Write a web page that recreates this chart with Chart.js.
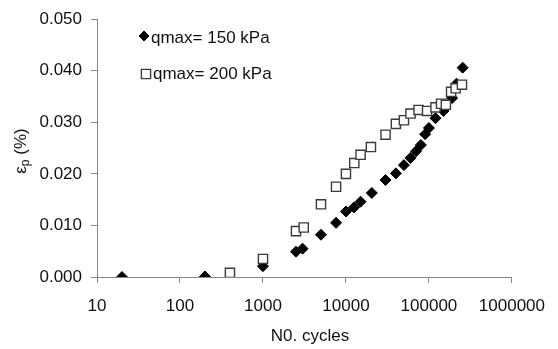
<!DOCTYPE html>
<html>
<head>
<meta charset="utf-8">
<script src="https://cdn.jsdelivr.net/npm/chart.js@4.4.1/dist/chart.umd.min.js"></script>
<style>
    html, body { margin: 0; padding: 0; background: #fff; }
    #wrap { width: 558px; height: 349px; position: relative; }
</style>
</head>
<body>
<div id="wrap"><canvas id="chart" width="558" height="349"></canvas></div>
<script>
// Data
const cycles150 = [20, 200, 1000, 2500, 3000, 5000, 7600, 10000, 12500, 15000, 20500, 30000, 40000, 50000, 60000, 70000, 80000, 90000, 100000, 120000, 150000, 190000, 215000, 255000];
const strain150 = [0.0000, 0.0001, 0.0021, 0.0049, 0.0055, 0.0082, 0.0105, 0.0127, 0.0135, 0.0146, 0.0163, 0.0188, 0.0201, 0.0217, 0.0231, 0.0244, 0.0256, 0.0277, 0.0289, 0.0308, 0.0322, 0.0347, 0.0375, 0.0406];

const cycles200 = [400, 1000, 2500, 3100, 5000, 7600, 10000, 12600, 15000, 20000, 30000, 40000, 50000, 60000, 75000, 95000, 120000, 140000, 160000, 185000, 210000, 250000];
const strain200 = [0.0008, 0.0035, 0.0089, 0.0096, 0.0141, 0.0175, 0.0200, 0.0221, 0.0237, 0.0252, 0.0276, 0.0297, 0.0304, 0.0317, 0.0324, 0.0322, 0.0329, 0.0336, 0.0334, 0.0359, 0.0366, 0.0373];

const xTicks = [10, 100, 1000, 10000, 100000, 1000000];
const yTicks = [0, 0.01, 0.02, 0.03, 0.04, 0.05];

const labels = ['qmax= 150 kPa', 'qmax= 200 kPa'];
const xTitle = 'N0. cycles';

const FONT = '"Liberation Sans", Arial, sans-serif';
const AXIS_COLOR = '#868686';
const TEXT_COLOR = '#111';

function toPoints(xs, ys) {
    return xs.map((x, i) => ({ x: x, y: ys[i] }));
}

// Legend inside the plot + axis titles
const overlay = {
    id: 'overlay',
    afterDraw(chart) {
        const ctx = chart.ctx;
        ctx.save();
        ctx.font = '17px ' + FONT;
        ctx.fillStyle = TEXT_COLOR;
        ctx.textBaseline = 'middle';

        // legend
        const rows = [
            { ds: chart.data.datasets[1], x: 144, y: 36, tx: 151, ty: 38 },
            { ds: chart.data.datasets[0], x: 146, y: 74, tx: 153, ty: 74 }
        ];
        rows.forEach(r => {
            ctx.fillStyle = r.ds.backgroundColor;
            ctx.strokeStyle = r.ds.borderColor;
            ctx.lineWidth = r.ds.borderWidth;
            Chart.helpers.drawPoint(ctx, {
                pointStyle: r.ds.pointStyle,
                radius: r.ds.legendRadius,
                borderWidth: r.ds.borderWidth,
                rotation: 0
            }, r.x, r.y);
            ctx.fillStyle = TEXT_COLOR;
            ctx.textAlign = 'left';
            ctx.fillText(r.ds.label, r.tx, r.ty);
        });

        // x title
        ctx.textAlign = 'center';
        ctx.fillText(xTitle, 310, 336);

        // y title: epsilon with subscript p, rotated
        ctx.translate(21, 151);
        ctx.rotate(-Math.PI / 2);
        const big = '17px ' + FONT;
        const small = '12px ' + FONT;
        ctx.font = big;
        const wE = ctx.measureText('\u03b5').width;
        const wRest = ctx.measureText(' (%)').width;
        ctx.font = small;
        const wP = ctx.measureText('p').width;
        const total = wE + wP + wRest;
        let cx = -total / 2;
        ctx.textAlign = 'left';
        ctx.font = big;
        ctx.fillText('\u03b5', cx, 0);
        cx += wE;
        ctx.font = small;
        ctx.fillText('p', cx, 5);
        cx += wP;
        ctx.font = big;
        ctx.fillText(' (%)', cx, 0);
        ctx.restore();
    }
};

const chart = new Chart(document.getElementById('chart'), {
    type: 'scatter',
    data: {
        datasets: [{
            label: labels[1],
            data: toPoints(cycles200, strain200),
            pointStyle: 'rect',
            radius: 6.5,
            legendRadius: 6.5,
            backgroundColor: '#fff',
            borderColor: '#3a3a3a',
            borderWidth: 1.4,
            order: 0
        }, {
            label: labels[0],
            data: toPoints(cycles150, strain150),
            pointStyle: 'rectRot',
            radius: 5.5,
            legendRadius: 5,
            backgroundColor: '#000',
            borderColor: '#000',
            borderWidth: 1,
            order: 1
        }]
    },
    options: {
        responsive: false,
        animation: false,
        events: [],
        layout: {
            padding: { left: 0, top: 17, right: 34, bottom: 0 }
        },
        plugins: {
            legend: { display: false },
            tooltip: { enabled: false }
        },
        scales: {
            x: {
                type: 'logarithmic',
                min: 10,
                max: 1000000,
                afterBuildTicks: scale => {
                    scale.ticks = xTicks.map(v => ({ value: v }));
                },
                afterFit: scale => { scale.height = 72; },
                ticks: {
                    autoSkip: false,
                    maxRotation: 0,
                    padding: 13,
                    color: TEXT_COLOR,
                    font: { family: FONT, size: 17 },
                    callback: v => String(v)
                },
                grid: {
                    drawOnChartArea: false,
                    drawTicks: true,
                    tickLength: 6,
                    color: AXIS_COLOR
                },
                border: { color: AXIS_COLOR, width: 1 }
            },
            y: {
                min: 0,
                max: 0.05,
                afterBuildTicks: scale => {
                    scale.ticks = yTicks.map(v => ({ value: v }));
                },
                afterFit: scale => { scale.width = 97; },
                ticks: {
                    padding: 9,
                    color: TEXT_COLOR,
                    font: { family: FONT, size: 17 },
                    callback: v => v.toFixed(3)
                },
                grid: {
                    drawOnChartArea: false,
                    drawTicks: true,
                    tickLength: 6,
                    color: AXIS_COLOR
                },
                border: { color: AXIS_COLOR, width: 1 }
            }
        }
    },
    plugins: [overlay]
});
</script>
</body>
</html>
